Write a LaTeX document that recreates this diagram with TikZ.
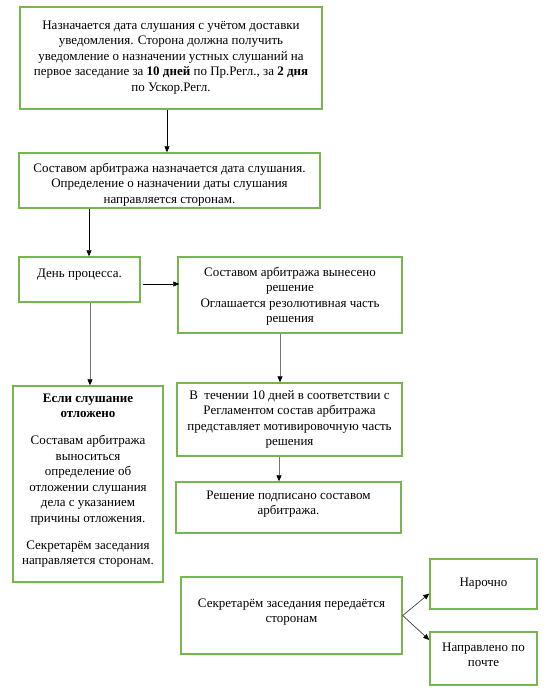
\documentclass[tikz,border=0pt]{standalone}
\usepackage{fontspec}
\setmainfont{Liberation Serif}
\usetikzlibrary{arrows.meta}
\definecolor{boxgreen}{RGB}{118,182,78}
\begin{document}
\begin{tikzpicture}[x=1pt,y=-1pt,
  box/.style={draw=boxgreen, line width=1.4pt, inner sep=0pt},
  txt/.style={anchor=north, inner sep=0pt, align=center, yshift=10.85pt, font=\fontsize{13}{15.5}\selectfont},
  conn/.style={-{Triangle[length=6pt,width=5pt,color=black]}, line width=0.7pt, draw=black},
  gconn/.style={conn, draw=black!55},
  dconn/.style={conn, draw=black!75}
]
\fill[white] (0,0) rectangle (550,700);
\useasboundingbox (0,0) rectangle (550,700);

% boxes
\node[box, minimum width=302pt, minimum height=102pt] (b1) at (171,58) {};
\node[box, minimum width=301pt, minimum height=55pt] (b2) at (169.5,180.5) {};
\node[box, minimum width=121pt, minimum height=45pt] (b3) at (79.5,279.5) {};
\node[box, minimum width=224pt, minimum height=76pt] (b4) at (290,295) {};
\node[box, minimum width=150pt, minimum height=196pt] (b5) at (88,484) {};
\node[box, minimum width=225pt, minimum height=73pt] (b6) at (289.5,419.5) {};
\node[box, minimum width=225pt, minimum height=51pt] (b7) at (288.5,507.5) {};
\node[box, minimum width=221pt, minimum height=77pt] (b8) at (291.5,615.5) {};
\node[box, minimum width=107pt, minimum height=50pt] (b9) at (483.5,584) {};
\node[box, minimum width=107pt, minimum height=53pt] (b10) at (483.5,658.5) {};

% texts (position = baseline of first line)
\node[txt] (t1) at (171,29) {\strut Назначается дата слушания с учётом доставки\\
уведомления. Сторона должна получить\\
уведомление о назначении устных слушаний на\\
первое заседание за \textbf{10 дней} по Пр.Регл., за \textbf{2 дня}\\
по Ускор.Регл.};
\node[txt] (t2) at (169.5,172) {\strut Составом арбитража назначается дата слушания.\\
Определение о назначении даты слушания\\
направляется сторонам.};
\node[txt] (t3) at (79.5,277) {\strut День процесса.};
\node[txt] (t4) at (290,276) {\strut Составом арбитража вынесено\\
решение\\
Оглашается резолютивная часть\\
решения};
\node[txt] (t5) at (88,402) {\strut\textbf{Если слушание}\\
\textbf{отложено}\\[11.5pt]
Составам арбитража\\
выноситься\\
определение об\\
отложении слушания\\
дела с указанием\\
причины отложения.\\[11.5pt]
Секретарём заседания\\
направляется сторонам.};
\node[txt] (t6) at (289.5,399) {\strut В\ \ течении 10 дней в соответствии с\\
Регламентом состав арбитража\\
представляет мотивировочную часть\\
решения};
\node[txt] (t7) at (288.5,499) {\strut Решение подписано составом\\
арбитража.};
\node[txt] (t8) at (291.5,607) {\strut Секретарём заседания передаётся\\
сторонам};
\node[txt] (t9) at (483.5,586) {\strut Нарочно};
\node[txt] (t10) at (483.5,651) {\strut Направлено по\\
почте};

% connectors
\draw[conn] ([xshift=-4pt]b1.south) -- ([xshift=-4pt]b1.south |- b2.north);
\draw[conn] ([xshift=9.5pt]b3.north |- b2.south) -- ([xshift=9.5pt]b3.north);
\draw[conn] ([shift={(2,4.5)}]b3.east) -- ([shift={(2,4.5)}]b3.east -| b4.west);
\draw[gconn] ([xshift=10.5pt]b3.south) -- ([xshift=10.5pt]b3.south |- b5.north);
\draw[gconn] ([xshift=-10pt]b4.south) -- ([xshift=-10pt]b4.south |- b6.north);
\draw[gconn] ([xshift=-10.5pt]b6.south) -- ([xshift=-10.5pt]b6.south |- b7.north);
\draw[dconn] (b8.east) -- ([yshift=-9.5pt]b9.west);
\draw[dconn] (b8.east) -- ([yshift=18.5pt]b10.west);
\end{tikzpicture}
\end{document}
